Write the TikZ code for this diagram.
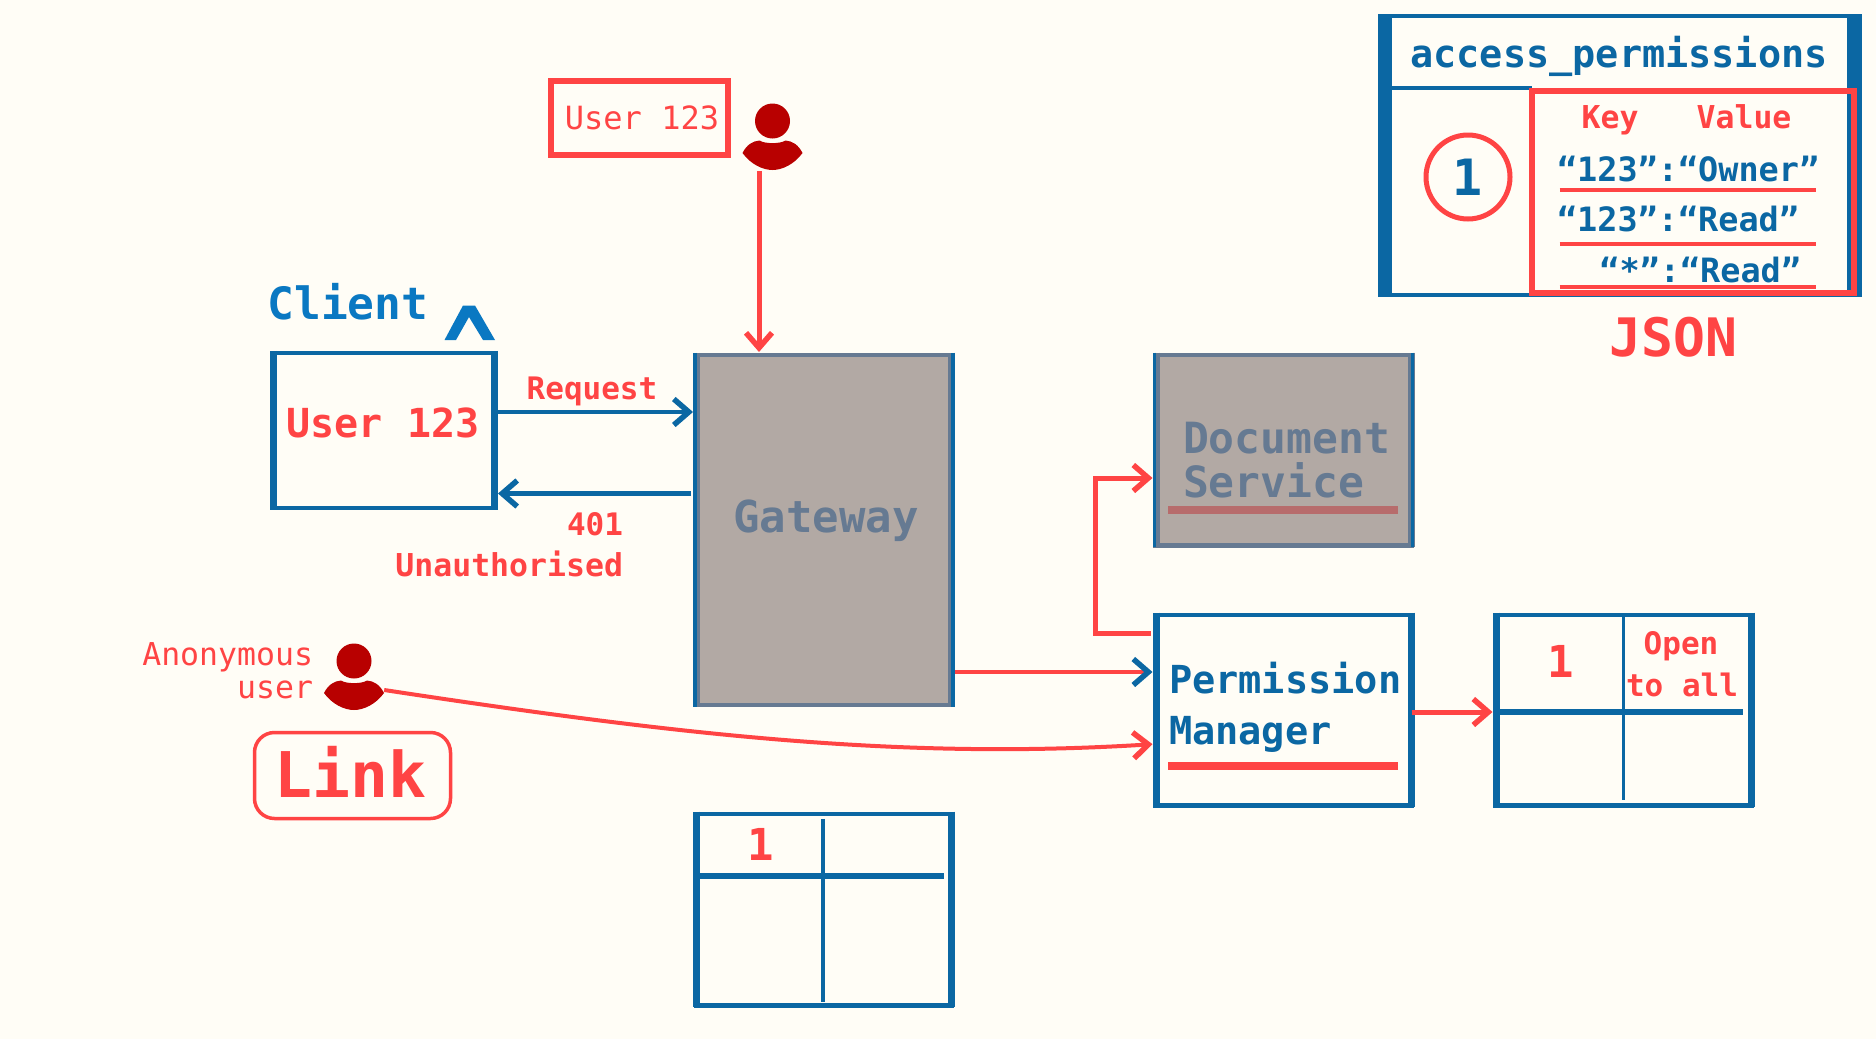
\documentclass[tikz,border=0pt]{standalone}
\usepackage{fontspec}
\usetikzlibrary{arrows.meta}
\newfontfamily\thinfont{DejaVu Sans Mono}
\newcommand{\medfont}{\thinfont\bfseries}
\newcommand{\fsz}[1]{\fontsize{#1}{#1}\selectfont}
\definecolor{bgc}{HTML}{FFFDF6}
\definecolor{bluec}{HTML}{0B67A3}
\definecolor{bright}{HTML}{0A78C2}
\definecolor{redc}{HTML}{FF4444}
\definecolor{darkred}{HTML}{B80000}
\definecolor{grayc}{HTML}{B2A9A4}
\definecolor{slatec}{HTML}{667A92}
\definecolor{dullred}{HTML}{B76C6C}

\begin{document}
\begin{tikzpicture}
  [x=1pt,y=-1pt,
   lbl/.style={inner sep=0,outer sep=0,anchor=base,font=\medfont},
   lblthin/.style={inner sep=0,outer sep=0,anchor=base,font=\thinfont},
   box/.style={rectangle,draw=bluec,line width=4.5pt,inner sep=0,outer sep=0,minimum width=256pt,minimum height=190.5pt,fill=bgc},
   graybox/.style={box,draw=slatec,fill=grayc},
   tick/.style={line width=#1,bluec},
   wall/.style={line width=#1,shorten <=-2.2pt,shorten >=-2.2pt},
   blueflow/.style={draw=bluec,line width=4.5pt,shorten >=3pt,-{Straight Barb[length=15pt,width=26pt,line width=5.5pt]}},
   redflow/.style={draw=redc,line width=5pt,shorten >=3pt,-{Straight Barb[length=15pt,width=26pt,line width=5.5pt]}},
   person/.pic={
     \fill[darkred] (0,0) circle (17.5pt);
     \fill[darkred] (-30,32) .. controls (-26,24) and (-20,20) .. (-13,19.5) .. controls (-8,23) and (8,23) .. (13,19.5)
       .. controls (20,20) and (26,24) .. (30,32) .. controls (22,43) and (10,49) .. (0,49) .. controls (-10,49) and (-22,43) .. (-30,32) -- cycle;
   }]
  \useasboundingbox (0,0) rectangle (1876,1039);
  \fill[bgc] (0,0) rectangle (1876,1039);

  % boxes
  \node[box,minimum width=222pt,minimum height=155pt] (client) at (384,430.5) {};
  \node[graybox,minimum height=350pt] (gw) at (824,530) {};
  \node[graybox] (doc) at (1283.5,450) {};
  \node[box] (perm) at (1283.5,710) {};
  \node[box] (tblR) at (1623.5,710) {};
  \node[box,minimum height=191.5pt] (tblB) at (824,909.5) {};
  \node[box,draw=redc,line width=5.5pt,minimum width=177pt,minimum height=74pt] (tag) at (639.5,118) {};
  \node[rectangle,draw=redc,line width=3.5pt,rounded corners=20pt,inner sep=0,minimum width=196pt,minimum height=86pt] (linkbox) at (352.5,775.5) {};
  \node[inner sep=0,minimum width=60pt,minimum height=67pt] (usr) at (772.5,137.5) {};
  \node[inner sep=0,minimum width=60pt,minimum height=67pt] (anon) at (354,677.5) {};
  \pic at ([yshift=16.5pt]usr.center) {person};
  \pic at ([yshift=16.5pt]anon.center) {person};

  % heavier side walls of the boxes
  \foreach \b/\wallc in {client/bluec,perm/bluec,tblR/bluec,tblB/bluec,gw/slatec,doc/slatec} {
    \draw[\wallc,wall=7pt] ([xshift=.5pt]\b.north west) -- ([xshift=.5pt]\b.south west);
    \draw[\wallc,wall=7pt] ([xshift=-.5pt]\b.north east) -- ([xshift=-.5pt]\b.south east);
  }
  \foreach \b in {gw,doc} {
    \draw[bluec,wall=3.5pt] ([xshift=-1.2pt]\b.north west) -- ([xshift=-1.2pt]\b.south west);
    \draw[bluec,wall=3.5pt] ([xshift=1.2pt]\b.north east) -- ([xshift=1.2pt]\b.south east);
  }

  % access_permissions table
  \node[rectangle,draw=bluec,line width=3.5pt,inner sep=0,outer sep=0,minimum width=480pt,minimum height=279pt] (acc) at (1620,155.5) {};
  \fill[bluec] (1378,15) rectangle (1392,297);
  \fill[bluec] (1847,15) rectangle (1862,297);
  \draw[tick=4pt] (1392,88) -- (1532,88);
  \node[rectangle,draw=redc,line width=5.5pt,inner sep=0,outer sep=0,minimum width=322pt,minimum height=202pt] (json) at (1693,192) {};
  \node[circle,draw=redc,line width=5pt,inner sep=0,minimum size=84pt,text=bluec,font=\medfont\fsz{50}] (one) at (1468,177) {1};
  \foreach \yy in {190,244,287}
    \draw[redc,line width=4pt] (1559.5,\yy) -- (1816,\yy);

  % grid lines
  \draw[tick=6pt] ([yshift=-2pt]tblR.west) -- ([yshift=-2pt,xshift=-9pt]tblR.east);
  \draw[tick=3.5pt] ([yshift=-2pt]tblR.north) -- ([yshift=5pt]tblR.south);
  \draw[tick=6pt] (700,876) -- (944,876);
  \draw[tick=4pt] ([yshift=-5pt,xshift=-1pt]tblB.north) -- ([yshift=3pt,xshift=-1pt]tblB.south);
  \draw[dullred,line width=8pt] (1168,510) -- (1398,510);
  \draw[redc,line width=8pt] (1168,766) -- (1398,766);

  % connectors
  \draw[redflow] ([xshift=-13.5pt]usr.south) -- ([xshift=-13.5pt]usr.south |- gw.north);
  \draw[blueflow] ([yshift=18.5pt]client.east) -- ([yshift=18.5pt]client.east -| gw.west);
  \draw[blueflow,shorten <=5pt] ([yshift=-63pt]client.east -| gw.west) -- ([yshift=-63pt]client.east);
  \draw[draw=redc,line width=4.5pt,shorten >=3pt,-{Straight Barb[length=15pt,width=26pt,line width=5.5pt,color=bluec]}] ([yshift=-142pt,xshift=3pt]gw.east) -- ([yshift=38pt]perm.west);
  \draw[redflow,line width=4pt] ([yshift=-12.5pt]anon.east) .. controls (680,735) and (900,760) .. ([yshift=-34pt]perm.west);
  \draw[redflow] ([yshift=77pt,xshift=-5pt]perm.west) -| (1095,478) -- ([yshift=-28pt]doc.west);
  \draw[redflow] ([yshift=-2pt]perm.east) -- ([yshift=-2pt]tblR.west);

  % labels
  \node[lbl,text=bluec,font=\medfont\fsz{38.5}] (accT) at (1619,67) {access\_permissions};
  \node[lbl,text=redc,font=\medfont\fsz{31.5}] (keyT) at (1610,128) {Key};
  \node[lbl,text=redc,font=\medfont\fsz{31.5}] (valT) at (1744,128) {Value};
  \node[lbl,text=bluec,font=\medfont\fsz{33.5},anchor=base west] (kv1) at (1557,181) {“123”:“Owner”};
  \node[lbl,text=bluec,font=\medfont\fsz{33.5},anchor=base west] (kv2) at (1557,231) {“123”:“Read”};
  \node[lbl,text=bluec,font=\medfont\fsz{33.5},anchor=base east] (kv3) at (1801,282) {“*”:“Read”};
  \node[lbl,text=redc,font=\medfont\fsz{53}] (jsonT) at (1673.5,356) {JSON};
  \node[lblthin,text=redc,font=\thinfont\fsz{32}] (tagT) at (642,129) {User 123};
  \node[lbl,text=bright,font=\medfont\fsz{44.5}] (clientT) at (348,319) {Client};
  \fill[bright] (444.5,340) -- (463,305.5) -- (475,305.5) -- (495,340) -- (483,340) -- (469,317) -- (456,340) -- cycle;
  \node[lbl,text=redc,font=\medfont\fsz{40}] (userT) at (383,437.5) {User 123};
  \node[lbl,text=redc,font=\medfont\fsz{31}] (reqT) at (592,399) {Request};
  \node[lbl,text=redc,font=\medfont\fsz{31},anchor=base east] (errA) at (623,535) {401};
  \node[lbl,text=redc,font=\medfont\fsz{31.5},anchor=base east] (errB) at (623,576) {Unauthorised};
  \node[lbl,text=slatec,font=\medfont\fsz{44}] (gwT) at (826,532) {Gateway};
  \node[lbl,text=slatec,font=\medfont\fsz{43},anchor=base west] (docA) at (1183,453) {Document};
  \node[lbl,text=slatec,font=\medfont\fsz{43},anchor=base west] (docB) at (1183,497) {Service};
  \node[lbl,text=bluec,font=\medfont\fsz{38.6},anchor=base west] (permA) at (1169,693) {Permission};
  \node[lbl,text=bluec,font=\medfont\fsz{38.6},anchor=base west] (permB) at (1169,744) {Manager};
  \node[lbl,text=redc,font=\medfont\fsz{44}] (oneR) at (1561,677) {1};
  \node[lbl,text=redc,font=\medfont\fsz{31}] (openA) at (1681,654) {Open};
  \node[lbl,text=redc,font=\medfont\fsz{31}] (openB) at (1682,696) {to all};
  \node[lbl,text=redc,font=\medfont\fsz{44}] (oneB) at (761,860) {1};
  \node[lblthin,text=redc,font=\thinfont\fsz{31.5},anchor=base east] (anonA) at (313,665) {Anonymous};
  \node[lblthin,text=redc,font=\thinfont\fsz{31.5},anchor=base east] (anonB) at (313,698) {user};
  \node[lbl,text=redc,font=\medfont\fsz{63}] (linkT) at (350.5,797) {Link};
\end{tikzpicture}
\end{document}
